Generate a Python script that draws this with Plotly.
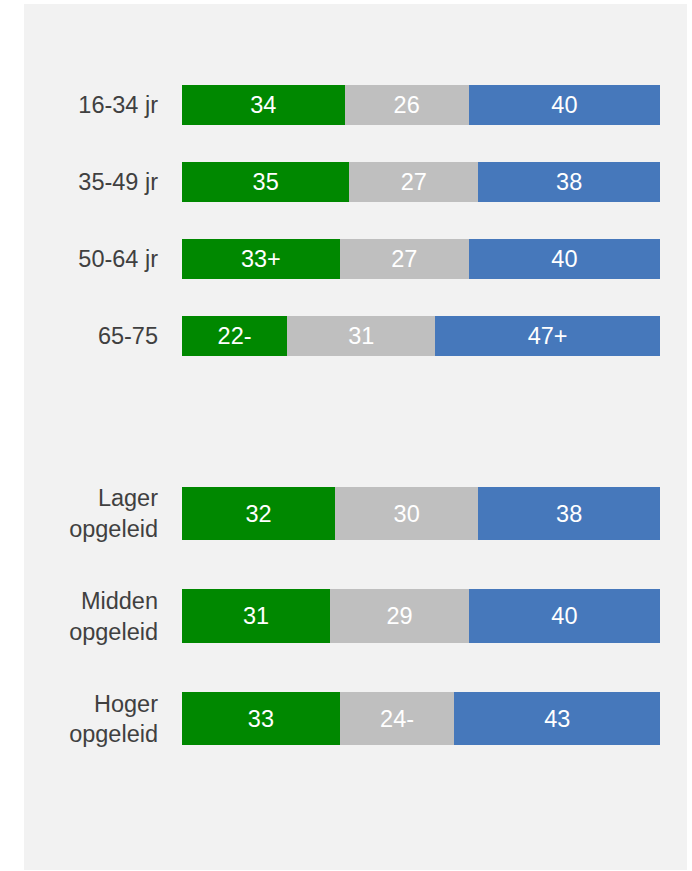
import plotly.graph_objects as go
from plotly.subplots import make_subplots

# Top group: age
age_cats = ["16-34 jr", "35-49 jr", "50-64 jr", "65-75"]
age_green = [34, 35, 33, 22]
age_gray = [26, 27, 27, 31]
age_blue = [40, 38, 40, 47]
age_green_lbl = ["34", "35", "33+", "22-"]
age_gray_lbl = ["26", "27", "27", "31"]
age_blue_lbl = ["40", "38", "40", "47+"]

# Bottom group: education
edu_cats = ["Lager<br>opgeleid", "Midden<br>opgeleid", "Hoger<br>opgeleid"]
edu_green = [32, 31, 33]
edu_gray = [30, 29, 24]
edu_blue = [38, 40, 43]
edu_green_lbl = ["32", "31", "33"]
edu_gray_lbl = ["30", "29", "24-"]
edu_blue_lbl = ["38", "40", "43"]

GREEN = "#008800"
GRAY = "#bfbfbf"
BLUE = "#4678bb"
FONT = "Liberation Sans, Arial, sans-serif"

W, H = 692, 871
ML, MR, MT, MB = 182, 32, 66, 101
PW = W - ML - MR
PH = H - MT - MB

def py(px):
    return (H - MB - px) / PH

def pxx(px):
    return (px - ML) / PW

fig = make_subplots(rows=2, cols=1, shared_xaxes=False, vertical_spacing=0.1)

def add_group(cats, vals, lbls, row):
    for v, l, c in zip(vals, lbls, [GREEN, GRAY, BLUE]):
        fig.add_trace(go.Bar(
            y=cats, x=v, orientation="h", text=l, textposition="inside",
            insidetextanchor="middle", constraintext="none",
            textfont=dict(color="white", size=23.5, family=FONT),
            marker=dict(color=c, line=dict(width=0)),
            showlegend=False, hoverinfo="skip",
        ), row=row, col=1)

add_group(age_cats, [age_green, age_gray, age_blue], [age_green_lbl, age_gray_lbl, age_blue_lbl], 1)
add_group(edu_cats, [edu_green, edu_gray, edu_blue], [edu_green_lbl, edu_gray_lbl, edu_blue_lbl], 2)

fig.update_layout(
    width=W, height=H, barmode="stack", bargap=0.48,
    margin=dict(l=ML, r=MR, t=MT, b=MB, pad=0),
    paper_bgcolor="white", plot_bgcolor="rgba(0,0,0,0)",
    font=dict(family=FONT, size=23.5, color="#404040"),
    xaxis=dict(range=[0, 100], visible=False, domain=[0, 1]),
    xaxis2=dict(range=[0, 100], visible=False, domain=[0, 1]),
    yaxis=dict(domain=[py(374.5), 1.0], autorange="reversed", showgrid=False,
               showline=False, zeroline=False, ticks="", ticklabelstandoff=23,
               tickfont=dict(size=23.5, color="#404040")),
    yaxis2=dict(domain=[0.0, py(462.25)], autorange="reversed", showgrid=False,
                showline=False, zeroline=False, ticks="", ticklabelstandoff=23,
                tickfont=dict(size=23.5, color="#404040")),
    shapes=[dict(type="rect", xref="paper", yref="paper",
                 x0=pxx(24), x1=pxx(687), y0=py(870), y1=py(4),
                 fillcolor="#f2f2f2", line=dict(width=0), layer="below")],
)

fig.write_html("out.html", config={"displayModeBar": False},
               post_script="document.body.style.margin='0';")
